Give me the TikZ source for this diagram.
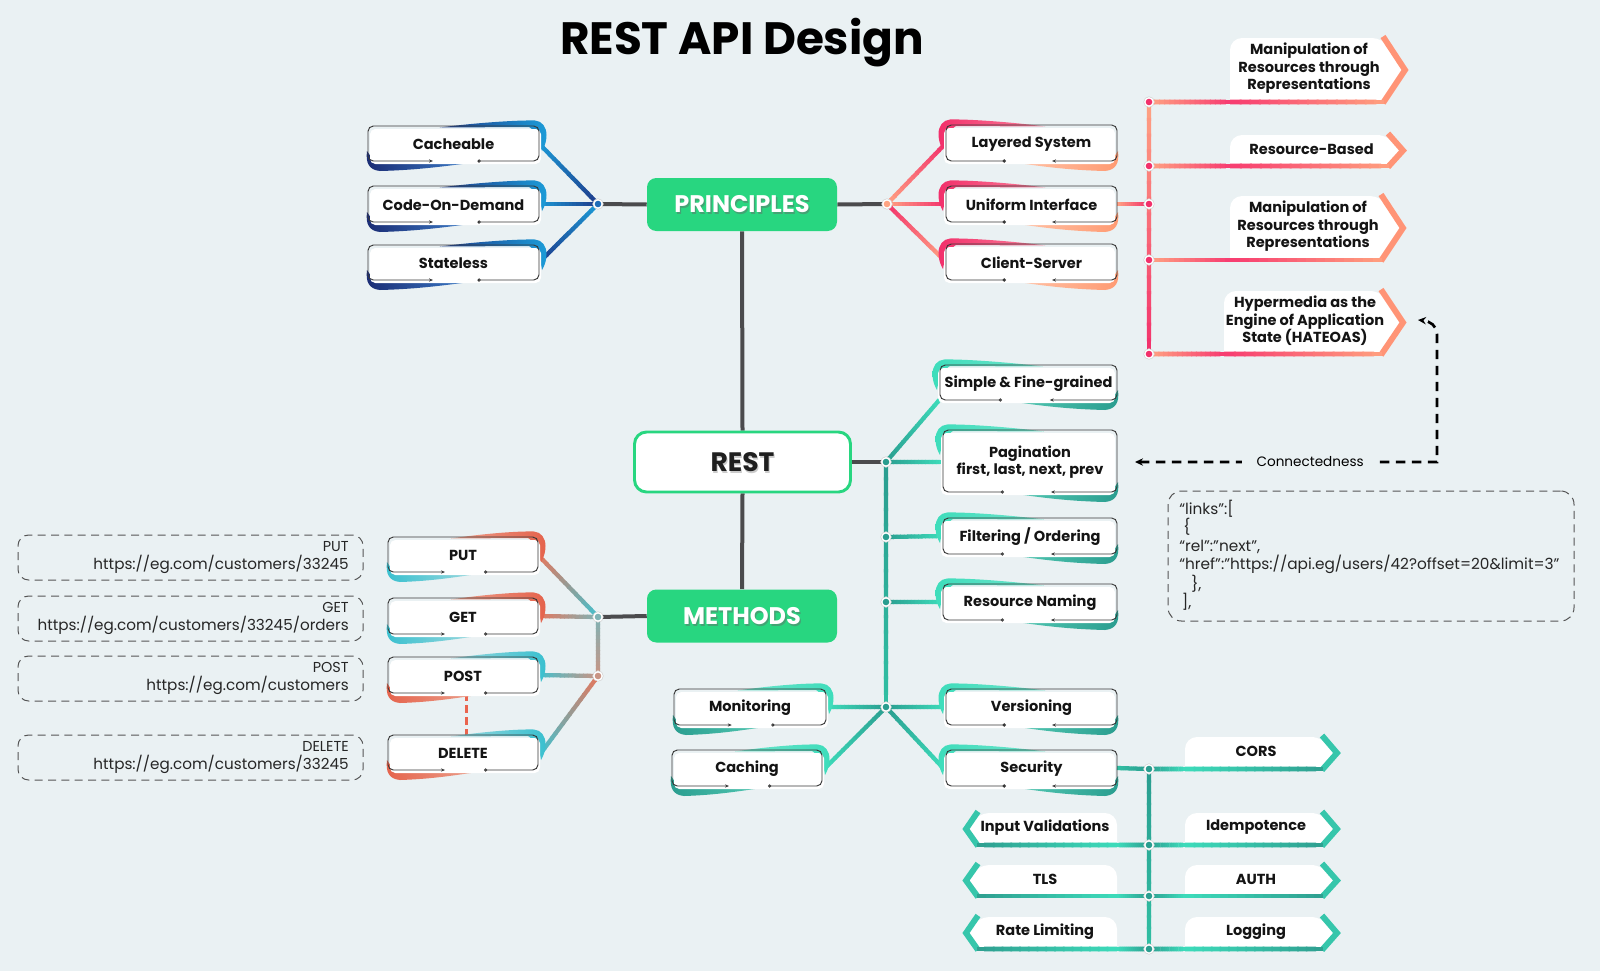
\documentclass[tikz,border=0pt]{standalone}
\usepackage{fontspec}
\setmainfont{Poppins}
\usetikzlibrary{calc,arrows.meta}
\pgfdeclarelayer{bgl}\pgfdeclarelayer{lines}\pgfdeclarelayer{deco}
\pgfsetlayers{bgl,lines,deco,main}
\definecolor{bg}{HTML}{EAF1F3}
\definecolor{grayln}{HTML}{4B4B4D}
\definecolor{grn}{HTML}{28D680}
\definecolor{blD}{HTML}{1E3A8A}
\definecolor{blL}{HTML}{1C9BD7}
\definecolor{blM}{HTML}{1F6DB8}
\definecolor{pkP}{HTML}{F2306B}
\definecolor{pkO}{HTML}{FFA483}
\definecolor{tlD}{HTML}{2A9D8F}
\definecolor{tlM}{HTML}{31BFA3}
\definecolor{tlL}{HTML}{3EDDBB}
\definecolor{sal}{HTML}{E6765C}
\definecolor{cyn}{HTML}{43C1CE}
\definecolor{mxc}{HTML}{7FB3B5}
\definecolor{mxs}{HTML}{C99484}
\definecolor{dgray}{HTML}{555555}
% box schemes
\colorlet{blueTA}{blD}\colorlet{blueTB}{blL}
\definecolor{blueBA}{HTML}{1B2C74}\definecolor{blueBB}{HTML}{3B7CC8}
\colorlet{pinkTA}{pkP}\definecolor{pinkTB}{HTML}{F9809A}
\definecolor{pinkBA}{HTML}{FFC2A6}\definecolor{pinkBB}{HTML}{FF9A72}
\colorlet{tRTA}{tlL}\definecolor{tRTB}{HTML}{6FE3CB}
\definecolor{tRBA}{HTML}{52C7B2}\colorlet{tRBB}{tlD}
\definecolor{tLTA}{HTML}{6FE3CB}\colorlet{tLTB}{tlL}
\colorlet{tLBA}{tlD}\definecolor{tLBB}{HTML}{52C7B2}
\definecolor{mATA}{HTML}{EBA08C}\definecolor{mATB}{HTML}{E5634C}
\definecolor{mABA}{HTML}{3AC0CF}\definecolor{mABB}{HTML}{9BD8DE}
\definecolor{mBTA}{HTML}{9BD8DE}\definecolor{mBTB}{HTML}{3AC0CF}
\definecolor{mBBA}{HTML}{E5634C}\definecolor{mBBB}{HTML}{EBA08C}
% tag schemes
\definecolor{pkA}{HTML}{FFA583}\definecolor{pkB}{HTML}{F73B70}
\definecolor{pkC}{HTML}{FF9F7E}\definecolor{pkCh}{HTML}{FF9476}
\definecolor{tlA}{HTML}{2E9E90}\definecolor{tlB}{HTML}{3DDCBB}
\definecolor{tlC}{HTML}{2F9F90}\definecolor{tlCh}{HTML}{36C6AB}

\newcommand\bx{\bfseries\fontsize{10.9pt}{13.2pt}\selectfont}
\tikzset{
  btext/.style={font=\bx,align=center,inner sep=0pt,text=black!92},
  ttext/.style={font=\bx,align=center,inner sep=0pt,text=black!92},
  boxline/.style={draw=black!78,line width=0.7pt},
  gln/.style={draw=grayln,line width=3pt},
  mainbox/.style={minimum width=142.5pt,minimum height=39.75pt,rounded corners=7pt,inner sep=0pt},
  maintext/.style={font=\bfseries\fontsize{18pt}{20pt}\selectfont,inner sep=0pt},
  dbox/.style={draw=dgray,line width=0.75pt,dash pattern=on 6pt off 4pt,rounded corners=8pt,minimum width=258.75pt,minimum height=33.75pt,inner sep=0pt},
  utext/.style={anchor=east,align=right,inner sep=0pt,text=black!85,font=\fontsize{11.4pt}{13pt}\selectfont},
  cnline/.style={draw=black,line width=2pt,dash pattern=on 7pt off 5pt},
}

\newcommand\gline[5]{%
 \foreach \gi in {0,...,15}{%
  \pgfmathsetmacro\gta{\gi/16}%
  \pgfmathsetmacro\gtb{min((\gi+1.2)/16,1)}%
  \pgfmathtruncatemacro\gpc{100-(\gi+0.5)*100/16}%
  \draw[line width=#5,draw=#3!\gpc!#4,line cap=butt] ($(#1)!\gta!(#2)$) -- ($(#1)!\gtb!(#2)$);%
 }%
}
\newcommand\jdot[2]{%
 \filldraw[fill=white,draw=black!18,line width=0.4pt] (#1) circle (5.3);
 \fill[#2] (#1) circle (3.3);
}
\newcommand\mkbox[6]{%
  \coordinate (#1-nw) at (#2,#3);
  \coordinate (#1-ne) at (#4,#3);
  \coordinate (#1-sw) at (#2,#5);
  \coordinate (#1-se) at (#4,#5);
  \coordinate (#1-e) at (#4,{(#3+#5)/2});
  \coordinate (#1-w) at (#2,{(#3+#5)/2});
  \node[btext] (#1) at ({(#2+#4)/2},{(#3+#5)/2+1}) {#6};
}
\newcommand\decoL[5]{%
 \shade[left color=#2,right color=#3]
  ($(#1-nw)!0.42!(#1-ne)+(0,1.5)$)
  .. controls ($(#1-nw)!0.62!(#1-ne)+(0,-3)$) and ($(#1-ne)+(-22,-6)$) .. ($(#1-ne)+(-4,-5.5)$)
  .. controls ($(#1-ne)+(3,-5)$) and ($(#1-ne)+(7.5,1)$) .. ($(#1-ne)+(7.5,9)$)
  .. controls ($(#1-ne)+(7.5,15)$) and ($(#1-ne)+(6,20)$) .. ($(#1-ne)+(3,25)$)
  -- ($(#1-ne)+(0,8)$) -- ($(#1-ne)+(-10,1)$) -- cycle;
 \shade[left color=#4,right color=#5]
  ($(#1-sw)+(-1,-10)$)
  .. controls ($(#1-sw)+(-2.5,2)$) and ($(#1-sw)+(1,9)$) .. ($(#1-sw)+(12,10)$)
  .. controls ($(#1-sw)!0.3!(#1-se)+(0,9)$) and ($(#1-sw)!0.45!(#1-se)+(0,5)$) .. ($(#1-sw)!0.6!(#1-se)+(0,2)$)
  -- ($(#1-sw)!0.6!(#1-se)+(0,-2)$) -- ($(#1-sw)+(3,-4)$) -- cycle;
 \fill[white,rounded corners=4pt] ($(#1-nw)+(2,3)$) rectangle ($(#1-se)+(2,3)$);
 \draw[boxline,{Stealth[length=3pt,width=2.4pt]}-{Circle[length=2.4pt,open]},rounded corners=4pt]
  ($(#1-sw)!0.38!(#1-se)$) -| (#1-nw) -| (#1-se) -- ($(#1-sw)!0.64!(#1-se)$);
}
\newcommand\decoR[5]{%
 \shade[left color=#2,right color=#3]
  ($(#1-nw)!0.58!(#1-ne)+(0,1.5)$)
  .. controls ($(#1-nw)!0.38!(#1-ne)+(0,-3)$) and ($(#1-nw)+(22,-6)$) .. ($(#1-nw)+(4,-5.5)$)
  .. controls ($(#1-nw)+(-3,-5)$) and ($(#1-nw)+(-7.5,1)$) .. ($(#1-nw)+(-7.5,9)$)
  .. controls ($(#1-nw)+(-7.5,15)$) and ($(#1-nw)+(-6,20)$) .. ($(#1-nw)+(-3,25)$)
  -- ($(#1-nw)+(0,8)$) -- ($(#1-nw)+(10,1)$) -- cycle;
 \shade[left color=#4,right color=#5]
  ($(#1-se)+(1,-10)$)
  .. controls ($(#1-se)+(2.5,2)$) and ($(#1-se)+(-1,9)$) .. ($(#1-se)+(-12,10)$)
  .. controls ($(#1-se)!0.3!(#1-sw)+(0,9)$) and ($(#1-se)!0.45!(#1-sw)+(0,5)$) .. ($(#1-se)!0.58!(#1-sw)+(0,2)$)
  -- ($(#1-se)!0.58!(#1-sw)+(0,-2)$) -- ($(#1-se)+(-3,-4)$) -- cycle;
 \fill[white,rounded corners=4pt] ($(#1-nw)+(-2,3)$) rectangle ($(#1-se)+(-2,3)$);
 \draw[boxline,{Circle[length=2.4pt,open]}-{Stealth[length=3pt,width=2.4pt]},rounded corners=4pt]
  ($(#1-sw)!0.35!(#1-se)$) -| (#1-nw) -| (#1-se) -- ($(#1-sw)!0.62!(#1-se)$);
}
\newcommand\lbox[7]{%
  \mkbox{#1}{#2}{#3}{#4}{#5}{#6}%
  \begin{pgfonlayer}{deco}\decoL{#1}{#7TA}{#7TB}{#7BA}{#7BB}\end{pgfonlayer}%
}
\newcommand\rbox[7]{%
  \mkbox{#1}{#2}{#3}{#4}{#5}{#6}%
  \begin{pgfonlayer}{deco}\decoR{#1}{#7TA}{#7TB}{#7BA}{#7BB}\end{pgfonlayer}%
}
% right-pointing tag: name xl yt yb xtip depth dot text scheme
\newcommand\tagR[9]{%
 \coordinate (#1-bl) at (#2,#4);
 \coordinate (#1-br) at ({#5-#6},#4);
 \coordinate (#1-tr) at ({#5-#6},#3);
 \coordinate (#1-tip) at (#5,{(#3+#4)/2});
 \node[ttext] (#1) at ({(#2+#5-#6)/2+2},{(#3+#4)/2-1.5}) {#8};
 \begin{pgfonlayer}{deco}
 \fill[white] (#1-bl) [rounded corners=9pt] |- (#1-tr) [sharp corners] -- ($(#1-tip)+(-6,0)$) -- (#1-br) -- cycle;
 \draw[line width=4.4pt,draw=#9Ch,line join=miter] ($(#1-tr)+(-1,-1.5)$) -- ($(#1-tip)+(-3,0)$) -- ($(#1-br)+(-1,1)$);
 \gline{#7}{#1-bl}{#9A}{#9B}{3.6pt}
 \gline{#1-bl}{#1-br}{#9B}{#9C}{3.6pt}
 \end{pgfonlayer}
}
% left-pointing tag: name xr yt yb xtip depth dot text scheme
\newcommand\tagL[9]{%
 \coordinate (#1-br) at (#2,#4);
 \coordinate (#1-bl) at ({#5+#6},#4);
 \coordinate (#1-tl) at ({#5+#6},#3);
 \coordinate (#1-tip) at (#5,{(#3+#4)/2});
 \node[ttext] (#1) at ({(#2+#5+#6)/2-2},{(#3+#4)/2-1.5}) {#8};
 \begin{pgfonlayer}{deco}
 \fill[white] (#1-br) [rounded corners=9pt] |- (#1-tl) [sharp corners] -- ($(#1-tip)+(6,0)$) -- (#1-bl) -- cycle;
 \draw[line width=4.4pt,draw=#9Ch,line join=miter] ($(#1-tl)+(1,-1.5)$) -- ($(#1-tip)+(3,0)$) -- ($(#1-bl)+(1,1)$);
 \gline{#7}{#1-br}{#9A}{#9B}{3.6pt}
 \gline{#1-br}{#1-bl}{#9B}{#9C}{3.6pt}
 \end{pgfonlayer}
}

\begin{document}
\begin{tikzpicture}[x=0.75pt,y=-0.75pt]
\begin{pgfonlayer}{bgl}
\fill[bg] (0,0) rectangle (1600,971);
\end{pgfonlayer}
\useasboundingbox (0,0) rectangle (1600,971);

% title
\node[font=\bfseries\fontsize{34pt}{38pt}\selectfont,anchor=base,inner sep=0pt] (title) at (742,54) {REST API Design};

% main boxes
\node[mainbox,fill=grn] (prin) at (742,204.5) {};
\node[maintext,text=black!60,opacity=0.45] (prin-s) at (743.3,206.3) {PRINCIPLES};
\node[maintext,text=white] (prin-t) at (prin) {PRINCIPLES};
\node[mainbox,fill=white,draw=grn,line width=2.2pt,minimum width=162pt,minimum height=45pt,rounded corners=9pt] (rest) at (742.5,462) {};
\node[maintext,font=\bfseries\fontsize{20pt}{22pt}\selectfont,text=black!40,opacity=0.5] (rest-s) at (743.5,464) {REST};
\node[maintext,font=\bfseries\fontsize{20pt}{22pt}\selectfont,text=black!88] (rest-t) at (rest) {REST};
\node[mainbox,fill=grn] (meth) at (742,616) {};
\node[maintext,text=black!60,opacity=0.45] (meth-s) at (743.3,617.8) {METHODS};
\node[maintext,text=white] (meth-t) at (meth) {METHODS};

% junction coordinates
\coordinate (pjL) at (598,204);
\coordinate (pjR) at (887,204);
\coordinate (d1) at (1149,102);
\coordinate (d2) at (1149,166);
\coordinate (d3) at (1149,204);
\coordinate (d4) at (1149,260);
\coordinate (d5) at (1149,354);
\coordinate (rj) at (886,462);
\coordinate (rd1) at (886,537);
\coordinate (rd2) at (886,602);
\coordinate (rj2) at (886,707);
\coordinate (s1) at (1149,769);
\coordinate (s2) at (1149,845);
\coordinate (s3) at (1149,896);
\coordinate (s4) at (1149,949);
\coordinate (mj1) at (598,617);
\coordinate (mj2) at (598,676);

% principle boxes
\lbox{cache}{368}{126}{539}{161}{Cacheable}{blue}
\lbox{code}{368}{186}{539}{222}{Code-On-Demand}{blue}
\lbox{state}{368}{245}{539}{280}{Stateless}{blue}
\rbox{layer}{946}{125}{1117}{161}{Layered System}{pink}
\rbox{unif}{946}{186}{1117}{222}{Uniform Interface}{pink}
\rbox{client}{946}{244}{1117}{280}{Client-Server}{pink}

% REST boxes
\rbox{simple}{940}{365}{1117}{400}{Simple \& Fine-grained}{tR}
\rbox{pag}{943}{430}{1117}{492}{Pagination\\first, last, next, prev}{tR}
\rbox{filt}{943}{518}{1117}{554}{Filtering / Ordering}{tR}
\rbox{rname}{943}{584}{1117}{620}{Resource Naming}{tR}
\rbox{vers}{946}{689}{1117}{725}{Versioning}{tR}
\rbox{secu}{946}{750}{1117}{786}{Security}{tR}
\lbox{mon}{674}{689}{826}{725}{Monitoring}{tL}
\lbox{cach}{672}{750}{822}{786}{Caching}{tL}

% method boxes
\lbox{put}{388}{537}{538}{572}{PUT}{mA}
\lbox{get}{388}{598}{538}{634}{GET}{mA}
\lbox{post}{388}{657}{538}{693}{POST}{mB}
\lbox{del}{388}{735}{538}{770}{DELETE}{mB}

% line end coordinates
\coordinate (simple-ln) at (941,398);
\coordinate (pag-ln) at (943,462);
\coordinate (secu-ln) at (944,769);
\coordinate (cach-ln) at (824,769);
\coordinate (put-ln) at (539,556);
\coordinate (del-ln) at (541,753);

% pink tags
\tagR{manip1}{1230}{38}{102}{1408}{24}{d1}{Manipulation of\\Resources through\\Representations}{pk}
\tagR{resb}{1230}{135}{166}{1406}{17}{d2}{Resource-Based}{pk}
\tagR{manip2}{1230}{196}{260}{1406}{24}{d4}{Manipulation of\\Resources through\\Representations}{pk}
\tagR{hyper}{1224}{291}{354}{1406}{24}{d5}{Hypermedia as the\\Engine of Application\\State (HATEOAS)}{pk}

% teal tags
\tagR{cors}{1185}{737}{769}{1340}{17}{s1}{CORS}{tl}
\tagR{idem}{1185}{813}{845}{1340}{17}{s2}{Idempotence}{tl}
\tagR{auth}{1185}{865}{896}{1340}{17}{s3}{AUTH}{tl}
\tagR{logg}{1185}{917}{949}{1340}{17}{s4}{Logging}{tl}
\tagL{inval}{1117}{813}{845}{963}{14}{s2}{Input Validations}{tl}
\tagL{tls}{1117}{865}{896}{963}{14}{s3}{TLS}{tl}
\tagL{rate}{1117}{917}{949}{963}{14}{s4}{Rate Limiting}{tl}

% dashed request boxes
\node[dbox] (putd) at (190.5,557.5) {};
\node[utext] (putd-t) at (349,557.5) {{\fontsize{10.8pt}{12pt}\selectfont PUT}\\https://eg.com/customers/33245};
\node[dbox] (getd) at (190.5,618.5) {};
\node[utext] (getd-t) at (349,618.5) {{\fontsize{10.8pt}{12pt}\selectfont GET}\\https://eg.com/customers/33245/orders};
\node[dbox] (postd) at (190.5,678.5) {};
\node[utext] (postd-t) at (349,678.5) {{\fontsize{10.8pt}{12pt}\selectfont POST}\\https://eg.com/customers};
\node[dbox] (deld) at (190.5,757.5) {};
\node[utext] (deld-t) at (349,757.5) {{\fontsize{10.8pt}{12pt}\selectfont DELETE}\\https://eg.com/customers/33245};

% JSON box
\node[dbox,minimum width=304.5pt,minimum height=97.5pt,rounded corners=10pt] (json) at (1371,556) {};
\node[anchor=north west,align=left,inner sep=0pt,text=black!85,font=\fontsize{11.5pt}{13.7pt}\selectfont] (json-t) at (1179,500)
 {“links”:[\\\hspace*{3pt}\{\\“rel”:”next”,\\“href”:”https://api.eg/users/42?offset=20\&limit=3”\\\hspace*{9pt}\},\\\hspace*{2pt}],};

% connectedness
\coordinate (cn-b) at (1135,462);
\coordinate (cn-c) at (1437,462);
\coordinate (cn-v) at (1437,334);
\coordinate (cn-a) at (1418,320);
\draw[cnline,{Stealth[length=6pt,width=5.5pt]}-{Stealth[length=6pt,width=5.5pt]}] (cn-b) -- node[pos=0.58,fill=bg,inner xsep=11pt,inner ysep=2pt,text=black,font=\fontsize{10.2pt}{12pt}\selectfont] (cn-l) {Connectedness} (cn-c) -- (cn-v) .. controls (1437,326) and (1430,321) .. (cn-a);

\begin{pgfonlayer}{lines}
 \draw[gln] (prin.south) -- (rest.north);
 \draw[gln] (rest.south) -- (meth.north);
 \draw[gln] (prin.west) -- (pjL);
 \draw[gln] (prin.east) -- (pjR);
 \draw[gln] (rest.east) -- (rj);
 \draw[gln] (meth.west) -- (mj1);
 % blue
 \gline{cache-e}{pjL}{blL}{blD}{3.2pt}
 \gline{code-e}{pjL}{blL}{blD}{3.2pt}
 \gline{state-e}{pjL}{blD}{blL}{3.2pt}
 % pink
 \gline{pjR}{layer-w}{pkO}{pkP}{3.2pt}
 \gline{pjR}{unif-w}{pkO}{pkP}{3.2pt}
 \gline{pjR}{client-w}{pkP}{pkO}{3.2pt}
 \gline{unif-e}{d3}{pkO}{pkP}{3.2pt}
 \gline{d1}{d5}{pkO}{pkP}{3.2pt}
 % teal
 \gline{rj}{rj2}{tlD}{tlM}{3.2pt}
 \gline{rj}{simple-ln}{tlD}{tlL}{3.2pt}
 \gline{rj}{pag-ln}{tlD}{tlL}{3.2pt}
 \gline{rd1}{filt-w}{tlD}{tlL}{3.2pt}
 \gline{rd2}{rname-w}{tlD}{tlL}{3.2pt}
 \gline{rj2}{vers-w}{tlD}{tlL}{3.2pt}
 \gline{rj2}{mon-e}{tlD}{tlL}{3.2pt}
 \gline{rj2}{cach-ln}{tlD}{tlL}{3.2pt}
 \gline{rj2}{secu-ln}{tlD}{tlL}{3.2pt}
 \gline{secu-e}{s1}{tlM}{tlD}{3.2pt}
 \gline{s1}{s4}{tlD}{tlM}{3.2pt}
 % methods
 \gline{put-ln}{mj1}{sal}{cyn}{3.2pt}
 \gline{get-e}{mj1}{sal}{mxc}{3.2pt}
 \gline{post-e}{mj2}{cyn}{mxs}{3.2pt}
 \gline{del-ln}{mj2}{cyn}{sal}{3.2pt}
 \gline{mj1}{mj2}{mxc}{mxs}{3.2pt}
 \draw[line width=2.3pt,draw=sal!85!red,dash pattern=on 6pt off 3pt] ($(post-sw)!0.525!(post-se)$) -- ($(del-nw)!0.525!(del-ne)$);
\end{pgfonlayer}

% dots
\jdot{pjL}{blM}
\jdot{pjR}{pkO}
\jdot{d1}{pkP}\jdot{d2}{pkP}\jdot{d3}{pkP}\jdot{d4}{pkP}\jdot{d5}{pkP}
\jdot{rj}{tlD}\jdot{rd1}{tlD}\jdot{rd2}{tlD}\jdot{rj2}{tlD}
\jdot{s1}{tlD}\jdot{s2}{tlD}\jdot{s3}{tlD}\jdot{s4}{tlD}
\jdot{mj1}{mxc}\jdot{mj2}{mxs}
\end{tikzpicture}
\end{document}
